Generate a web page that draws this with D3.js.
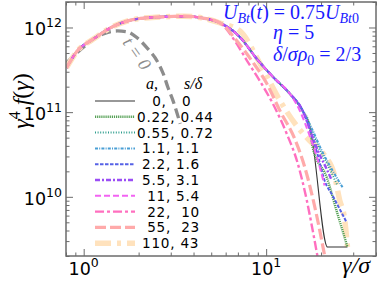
<!DOCTYPE html>
<html><head><meta charset="utf-8">
<script src="https://cdn.jsdelivr.net/npm/d3@7/dist/d3.min.js"></script>
<style>html,body{margin:0;padding:0;background:#fff;} svg{display:block;}</style>
</head><body>
<svg id="chart" width="378" height="283"></svg>
<script>
// ---------------- data ----------------
const legendLabels = ["   0,   0","0.22, 0.44","0.55, 0.72"," 1.1, 1.1"," 2.2, 1.6"," 5.5, 3.1","  11, 5.4","  22,  10","  55,  23"," 110, 43"];
const xMajorTicks = [1, 10];
const xTickExp = ["0", "1"];
const yMajorTicks = [1e10, 1e11, 1e12];
const yTickExp = ["10", "11", "12"];

// shared body of the distributions (gamma/sigma, gamma^4 f)
const gammaBody = [0.804,0.924,1.13,1.40,1.73,2.12,2.62,3.51,4.51,5.59,7.18,8.89,10.88,13.49,15.86];
const fBody     = [3.34e11,5.3e11,7.3e11,9.9e11,1.19e12,1.29e12,1.33e12,1.36e12,1.29e12,1.13e12,7.7e11,4.26e11,2.62e11,1.65e11,1.04e11];
// how many body points each series shares before its own tail
const sharedCount = [15,15,15,15,15,15,14,10,10,10];

const tailBlack     = [[17.3,6.9e10],[18.0,4.26e10],[21.7,2.55e9],[27.9,2.55e9]];
const tailGreen     = [[17.3,6.9e10],[18.0,3.82e10],[21.5,1.69e10],[24.3,6.9e9],[27.9,2.55e9]];
const tailTeal      = [[17.3,6.9e10],[19.2,4.0e10],[21.8,2.35e10],[24.6,1.36e10]];
const tailLightBlue = [[17.8,6.4e10],[20.2,3.5e10],[23.1,2.05e10],[26.2,1.3e10]];
const tailBlue      = [[17.3,6.4e10],[19.2,3.08e10],[20.9,1.56e10],[23.1,1.04e10],[27.6,5.0e9]];
const tailPurple    = [[17.3,6.4e10],[19.2,3.5e10],[21.4,2.16e10],[22.9,1.56e10]];
const tailMagenta   = [[15.3,1.04e11],[17.3,5.3e10],[19.2,2.7e10],[20.9,1.36e10]];
const tailPink      = [[6.75,6.9e11],[7.86,4.04e11],[9.22,2.35e11],[10.88,1.26e11],[12.95,5.6e10],[14.9,2.48e10],[16.7,9.1e9],[18.0,4.0e9],[19.1,2.0e9]];
const tailSalmon    = [[6.92,6.9e11],[8.35,4.04e11],[10.1,2.16e11],[11.9,1.04e11],[14.4,4.74e10],[16.3,2.22e10],[18.4,7.9e9],[21.0,1.94e9]];
const tailOrange    = [[7.18,9.1e11],[9.22,3.82e11],[11.9,1.37e11],[14.7,6.9e10],[17.3,4.6e10],[20.9,3.08e10],[23.6,1.85e10],[25.3,9.1e9],[26.9,5.5e9],[27.9,2.55e9]];
const tails = [tailBlack,tailGreen,tailTeal,tailLightBlue,tailBlue,tailPurple,tailMagenta,tailPink,tailSalmon,tailOrange];

// t = 0 initial distribution
const gammaT0 = [0.804,1.05,1.28,1.53,1.73,1.97,2.23,2.53,2.73,2.90,3.09,3.38];
const fT0     = [3.82e11,6.4e11,8.4e11,9.1e11,8.9e11,7.5e11,5.7e11,4.0e11,2.84e11,1.94e11,1.36e11,7.3e10];

// ---------------- styles ----------------
const colors = ["#333333","#55a055","#2f9e8e","#4a9fd5","#5561e6","#9b4df5","#f263f2","#ff6fbf","#ffaaaa","#ffe2bd"];
const widths = [1.1,2.4,2,2,2,2.4,2,2.4,3.2,5.5];
const dashes = ["none","1.2,0.9","1,1.6","3,1.2,1,1.2","3.5,1.5","5,2,2,2","6,3","9,3,3,3","11,4","16,6,4,6"];
const drawOrder = [9,0,1,2,3,4,5,6,7,8];

// ---------------- drawing ----------------
const svg = d3.select("#chart");
const X0 = 66, X1 = 376, Y0 = 256, Y1 = 2;
const x = d3.scaleLog().domain([0.8, 40]).range([X0, X1]);
const y = d3.scaleLog().domain([2e9, 2e12]).range([Y0, Y1]);
const axisColor = "#6b6b6b";

svg.append("defs").append("clipPath").attr("id","clip")
  .append("rect").attr("x",X0).attr("y",Y1).attr("width",X1-X0).attr("height",Y0-Y1);

const isMajor = v => Math.abs(Math.log10(v) - Math.round(Math.log10(v))) < 1e-6;
const xMinor = x.ticks().filter(v => !isMajor(v));
const yMinor = y.ticks().filter(v => !isMajor(v));

function ax(fn, scale, ticks, size, tr) {
  const g = svg.append("g").attr("transform", tr)
    .call(fn(scale).tickValues(ticks).tickSizeInner(size).tickSizeOuter(0).tickFormat(""));
  g.select(".domain").remove();
  g.selectAll("line").attr("stroke", axisColor).attr("stroke-width", 1);
}
ax(d3.axisBottom, x, xMinor, -3.5, `translate(0,${Y0})`);
ax(d3.axisBottom, x, xMajorTicks, -7, `translate(0,${Y0})`);
ax(d3.axisTop, x, xMinor, -3.5, `translate(0,${Y1})`);
ax(d3.axisTop, x, xMajorTicks, -7, `translate(0,${Y1})`);
ax(d3.axisLeft, y, yMinor, -3.5, `translate(${X0},0)`);
ax(d3.axisLeft, y, yMajorTicks, -7, `translate(${X0},0)`);
ax(d3.axisRight, y, yMinor, -3.5, `translate(${X1},0)`);
ax(d3.axisRight, y, yMajorTicks, -7, `translate(${X1},0)`);

// tick labels
const tickFont = "DejaVu Sans, sans-serif";
xMajorTicks.forEach((v,i) => {
  const t = svg.append("text").attr("x", x(v)).attr("y", 275).attr("text-anchor","middle")
    .attr("font-family", tickFont).attr("font-size", 17.5).attr("fill","#000");
  t.append("tspan").text("10");
  t.append("tspan").attr("dy", -8).attr("font-size", 12.5).text(xTickExp[i]);
});
yMajorTicks.forEach((v,i) => {
  const t = svg.append("text").attr("x", 62).attr("y", y(v)+8).attr("text-anchor","end")
    .attr("font-family", tickFont).attr("font-size", 17.5).attr("fill","#000");
  t.append("tspan").text("10");
  t.append("tspan").attr("dy", -8).attr("font-size", 12.5).text(yTickExp[i]);
});

// curves
const line = d3.line().x(d => x(d[0])).y(d => y(d[1])).curve(d3.curveMonotoneX);
const plot = svg.append("g").attr("clip-path","url(#clip)");
const body = gammaBody.map((g,i) => [g, fBody[i]]);

plot.append("path").datum(gammaT0.map((g,i)=>[g,fT0[i]])).attr("d", line)
  .attr("fill","none").attr("stroke","#8c8c8c").attr("stroke-width",3.3).attr("stroke-dasharray","10,5");

drawOrder.forEach(k => {
  const pts = body.slice(0, sharedCount[k]).concat(tails[k]);
  plot.append("path").datum(pts).attr("d", line).attr("fill","none")
    .attr("stroke", colors[k]).attr("stroke-width", widths[k])
    .attr("stroke-dasharray", dashes[k]).attr("stroke-linejoin","round");
});

// frame
svg.append("rect").attr("x",X0).attr("y",Y1).attr("width",X1-X0).attr("height",Y0-Y1)
  .attr("fill","none").attr("stroke",axisColor).attr("stroke-width",1.5);

// t = 0 label
svg.append("text").attr("transform","translate(132,57) rotate(55)").attr("text-anchor","middle")
  .attr("font-family","Liberation Serif, serif").attr("font-style","italic").attr("font-size",18)
  .attr("fill","#8c8c8c").text("t = 0");

// legend
const serif = "Liberation Serif, serif";
svg.append("text").attr("x",146).attr("y",89).attr("font-family",serif).attr("font-style","italic")
  .attr("font-size",16).text("a,");
svg.append("text").attr("x",184).attr("y",89).attr("font-family",serif).attr("font-style","italic")
  .attr("font-size",16).text("s/δ");
legendLabels.forEach((lab,k) => {
  const cy = 101 + k*15.8;
  svg.append("line").attr("x1",95).attr("x2",135).attr("y1",cy).attr("y2",cy)
    .attr("stroke",colors[k]).attr("stroke-width",widths[k])
    .attr("stroke-dasharray",dashes[k]);
  svg.append("text").attr("x",137).attr("y",cy+4.9).attr("xml:space","preserve")
    .style("white-space","pre").attr("letter-spacing",0.75)
    .attr("font-family",tickFont).attr("font-size",13.6).text(lab);
});

// axis labels
const yl = svg.append("text").attr("transform","translate(29,101) rotate(-90)").attr("text-anchor","middle")
  .attr("font-family",serif).attr("font-style","italic").attr("font-size",24);
yl.append("tspan").text("γ");
yl.append("tspan").attr("dy",-9).attr("font-size",16).attr("font-style","normal").text("4");
yl.append("tspan").attr("dy",9).text(" f");
yl.append("tspan").attr("font-style","normal").text("(");
yl.append("tspan").text("γ");
yl.append("tspan").attr("font-style","normal").text(")");

svg.append("text").attr("x",370).attr("y",273).attr("text-anchor","end")
  .attr("font-family",serif).attr("font-style","italic").attr("font-size",24).text("γ/σ");

// blue annotation
function rich(xp, yp, segs) {
  const t = svg.append("text").attr("x",xp).attr("y",yp).attr("font-family",serif)
    .attr("font-size",20).attr("fill","#1a1aff");
  let shift = 0;
  segs.forEach(([s, k]) => {
    const ts = t.append("tspan").text(s).attr("font-style", k.includes("i") ? "italic" : "normal");
    if (k.includes("s") && shift === 0) { ts.attr("dy", 4).attr("font-size", 14); shift = 4; }
    else if (k.includes("s")) { ts.attr("font-size", 14); }
    else if (shift) { ts.attr("dy", -shift); shift = 0; }
  });
}
rich(223, 18.5, [["U","i"],["Bt","si"],["(","n"],["t","i"],[") = 0.75","n"],["U","i"],["Bt","si"],["0","s"]]);
rich(273, 38.5, [["η","i"],[" = 5","n"]]);
rich(273, 61, [["δ","i"],["/","n"],["σρ","i"],["0","s"],[" = 2/3","n"]]);
</script>
</body></html>
